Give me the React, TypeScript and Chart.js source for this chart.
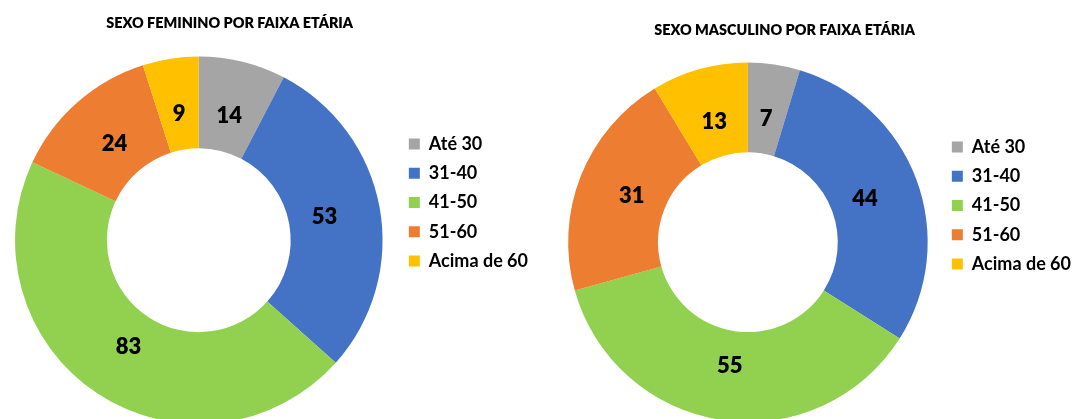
import React, { useEffect, useRef } from "react";
import { Chart, registerables } from "chart.js";

Chart.register(...registerables);

const categories = ["Até 30", "31-40", "41-50", "51-60", "Acima de 60"];
const femininoValues = [14, 53, 83, 24, 9];
const masculinoValues = [7, 44, 55, 31, 13];
const sliceColors = ["#A5A5A5", "#4472C4", "#92D050", "#ED7D31", "#FFC000"];
const femininoTitle = "SEXO FEMININO POR FAIXA ETÁRIA";
const masculinoTitle = "SEXO MASCULINO POR FAIXA ETÁRIA";

const FONT = "Lato, 'Open Sans', sans-serif";

const sliceLabelPlugin = {
  id: "sliceLabels",
  afterDatasetsDraw(chart: any, _args: any, opts: any) {
    const ctx = chart.ctx;
    const meta = chart.getDatasetMeta(0);
    const data = chart.data.datasets[0].data;
    ctx.save();
    ctx.font = `${opts.weight} ${opts.size}px ${FONT}`;
    ctx.fillStyle = opts.color;
    ctx.textAlign = "center";
    ctx.textBaseline = "middle";
    meta.data.forEach((arc: any, i: number) => {
      const p = arc.getProps(["x", "y", "startAngle", "endAngle", "innerRadius", "outerRadius"], true);
      const a = (p.startAngle + p.endAngle) / 2;
      const r = p.innerRadius + opts.radial * (p.outerRadius - p.innerRadius);
      ctx.fillText(String(data[i]), p.x + Math.cos(a) * r, p.y + Math.sin(a) * r);
    });
    ctx.restore();
  },
};

const titleShiftPlugin = {
  id: "titleShift",
  afterLayout(chart: any, _args: any, opts: any) {
    const t = chart.titleBlock;
    if (t && opts && opts.dx) {
      t.left += opts.dx;
      t.right += opts.dx;
    }
  },
};

type DonutProps = {
  title: string;
  values: number[];
  left: number;
  width: number;
  height: number;
  padding: { left: number; right: number; top: number; bottom: number };
  titlePadding: { top: number; bottom: number };
  titleDx: number;
};

function Donut(props: DonutProps) {
  const ref = useRef<HTMLCanvasElement | null>(null);
  useEffect(() => {
    if (!ref.current) return;
    const chart = new Chart(ref.current, {
      type: "doughnut",
      data: {
        labels: categories,
        datasets: [
          {
            data: props.values,
            backgroundColor: sliceColors,
            borderWidth: 0,
            hoverOffset: 0,
          },
        ],
      },
      plugins: [sliceLabelPlugin, titleShiftPlugin],
      options: {
        responsive: false,
        animation: false,
        cutout: "50%",
        layout: { padding: props.padding },
        plugins: {
          title: {
            display: true,
            text: props.title,
            color: "#000",
            font: { family: FONT, size: 14.4, weight: "800" },
            padding: props.titlePadding,
          },
          legend: {
            display: true,
            position: "right",
            align: "center",
            labels: {
              color: "#000",
              font: { family: FONT, size: 18, weight: "bold" },
              boxWidth: 11,
              boxHeight: 11,
              padding: 11.25,
            },
          },
          tooltip: { enabled: false },
          sliceLabels: { size: 22, weight: "800", color: "#000", radial: 0.39 },
          titleShift: { dx: props.titleDx },
        } as any,
      },
    } as any);
    return () => chart.destroy();
  }, []);
  return (
    <canvas
      ref={ref}
      width={props.width}
      height={props.height}
      style={{
        position: "absolute",
        left: props.left,
        top: 0,
        width: props.width,
        height: props.height,
        display: "block",
      }}
    />
  );
}

export default function App() {
  return (
    <div
      style={{
        position: "fixed",
        left: 0,
        top: 0,
        width: 1073,
        height: 419,
        overflow: "hidden",
        background: "#fff",
      }}
    >
      <Donut
        title={femininoTitle}
        values={femininoValues}
        left={0}
        width={539}
        height={424}
        padding={{ left: -6.75, right: 1, top: -19, bottom: 0 }}
        titlePadding={{ top: 33.6, bottom: 24.6 }}
        titleDx={-36}
      />
      <Donut
        title={masculinoTitle}
        values={masculinoValues}
        left={540}
        width={533}
        height={422}
        padding={{ left: 15.25, right: -8, top: -11, bottom: 0 }}
        titlePadding={{ top: 32.6, bottom: 23.6 }}
        titleDx={-33.5}
      />
    </div>
  );
}
